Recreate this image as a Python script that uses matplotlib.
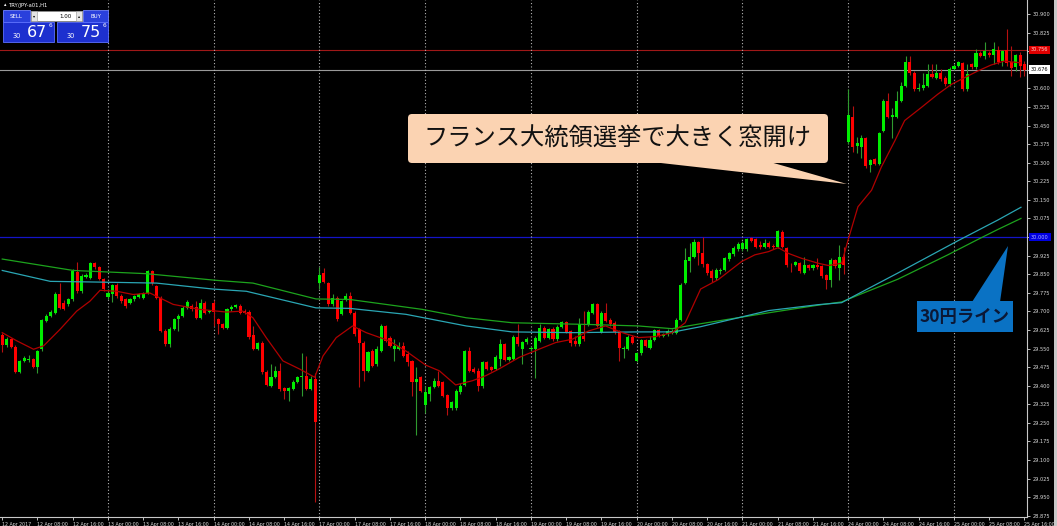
import numpy as np
import matplotlib
matplotlib.use('Agg')
import matplotlib.pyplot as plt
from matplotlib.patches import Rectangle, FancyBboxPatch, Polygon
from matplotlib.transforms import blended_transform_factory

JP = ['Noto Sans CJK JP', 'DejaVu Sans']

# TRY/JPY H1 candles, 12 Apr 2017 00:00 .. 25 Apr 16:00 (one row = 8 hours)
opens = [
    29.603, 29.563, 29.587, 29.558, 29.456, 29.500, 29.505, 29.508,
    29.474, 29.547, 29.661, 29.683, 29.694, 29.771, 29.734, 29.728,
    29.748, 29.857, 29.781, 29.838, 29.835, 29.895, 29.878, 29.830,
    29.758, 29.768, 29.808, 29.761, 29.748, 29.734, 29.748, 29.757,
    29.754, 29.774, 29.861, 29.801, 29.754, 29.621, 29.567, 29.630,
    29.668, 29.681, 29.714, 29.721, 29.718, 29.674, 29.734, 29.698,
    29.734, 29.668, 29.648, 29.634, 29.708, 29.718, 29.721, 29.701,
    29.698, 29.603, 29.550, 29.574, 29.456, 29.400, 29.436, 29.460,
    29.390, 29.380, 29.387, 29.416, 29.434, 29.438, 29.387, 29.427,
    29.814, 29.855, 29.814, 29.728, 29.754, 29.690, 29.745, 29.761,
    29.694, 29.628, 29.574, 29.460, 29.540, 29.487, 29.540, 29.641,
    29.594, 29.547, 29.550, 29.560, 29.527, 29.500, 29.414, 29.434,
    29.320, 29.367, 29.394, 29.420, 29.414, 29.362, 29.310, 29.310,
    29.373, 29.403, 29.540, 29.467, 29.460, 29.400, 29.494, 29.474,
    29.467, 29.507, 29.567, 29.504, 29.507, 29.598, 29.547, 29.576,
    29.547, 29.547, 29.580, 29.634, 29.594, 29.628, 29.587, 29.638,
    29.657, 29.620, 29.580, 29.567, 29.600, 29.647, 29.694, 29.728,
    29.617, 29.694, 29.667, 29.654, 29.620, 29.547, 29.550, 29.598,
    29.500, 29.531, 29.585, 29.554, 29.585, 29.625, 29.601, 29.607,
    29.614, 29.614, 29.667, 29.815, 29.904, 29.921, 29.978, 29.935,
    29.890, 29.861, 29.834, 29.861, 29.868, 29.910, 29.931, 29.951,
    29.951, 29.951, 29.995, 29.992, 29.968, 29.961, 29.975, 29.965,
    29.961, 30.021, 29.955, 29.888, 29.888, 29.895, 29.855, 29.888,
    29.874, 29.885, 29.881, 29.848, 29.828, 29.908, 29.874, 29.921,
    30.382, 30.485, 30.369, 30.363, 30.400, 30.289, 30.316, 30.296,
    30.429, 30.550, 30.486, 30.486, 30.550, 30.610, 30.707, 30.663,
    30.596, 30.600, 30.610, 30.656, 30.643, 30.660, 30.643, 30.616,
    30.680, 30.690, 30.703, 30.596, 30.697, 30.686, 30.743, 30.730,
    30.743, 30.733, 30.753, 30.710, 30.753, 30.707, 30.686, 30.734,
    30.700,
]
highs = [
    29.614, 29.595, 29.592, 29.565, 29.505, 29.520, 29.523, 29.512,
    29.545, 29.670, 29.690, 29.705, 29.778, 29.814, 29.745, 29.755,
    29.870, 29.901, 29.850, 29.855, 29.901, 29.900, 29.882, 29.835,
    29.790, 29.812, 29.815, 29.768, 29.752, 29.752, 29.766, 29.772,
    29.780, 29.868, 29.868, 29.808, 29.760, 29.628, 29.635, 29.672,
    29.690, 29.720, 29.745, 29.728, 29.741, 29.748, 29.741, 29.705,
    29.745, 29.674, 29.652, 29.712, 29.724, 29.730, 29.728, 29.708,
    29.704, 29.640, 29.577, 29.580, 29.462, 29.486, 29.480, 29.490,
    29.394, 29.396, 29.422, 29.440, 29.533, 29.520, 29.440, 29.450,
    29.880, 29.875, 29.820, 29.770, 29.762, 29.745, 29.775, 29.780,
    29.700, 29.632, 29.580, 29.540, 29.548, 29.560, 29.648, 29.645,
    29.600, 29.590, 29.575, 29.575, 29.540, 29.505, 29.475, 29.440,
    29.400, 29.400, 29.430, 29.460, 29.420, 29.368, 29.340, 29.385,
    29.410, 29.545, 29.555, 29.475, 29.470, 29.500, 29.500, 29.480,
    29.523, 29.587, 29.572, 29.520, 29.605, 29.648, 29.582, 29.595,
    29.560, 29.600, 29.648, 29.640, 29.632, 29.635, 29.645, 29.662,
    29.662, 29.625, 29.600, 29.672, 29.700, 29.705, 29.735, 29.735,
    29.700, 29.735, 29.672, 29.660, 29.625, 29.560, 29.603, 29.604,
    29.536, 29.590, 29.590, 29.600, 29.630, 29.630, 29.614, 29.627,
    29.627, 29.672, 29.815, 29.955, 29.975, 29.990, 29.985, 30.000,
    29.895, 29.870, 29.875, 29.875, 29.920, 29.941, 29.962, 29.978,
    29.985, 29.998, 30.000, 29.998, 29.985, 29.990, 29.985, 29.970,
    30.030, 30.030, 29.960, 29.895, 29.905, 29.900, 29.920, 29.892,
    29.892, 29.915, 29.885, 29.852, 29.914, 29.912, 29.968, 29.960,
    30.596, 30.530, 30.405, 30.410, 30.405, 30.315, 30.320, 30.425,
    30.556, 30.580, 30.520, 30.590, 30.625, 30.730, 30.730, 30.670,
    30.620, 30.660, 30.700, 30.700, 30.700, 30.680, 30.650, 30.685,
    30.700, 30.712, 30.708, 30.700, 30.702, 30.760, 30.750, 30.785,
    30.750, 30.785, 30.770, 30.756, 30.840, 30.770, 30.740, 30.745,
    30.712,
]
lows = [
    29.535, 29.555, 29.552, 29.450, 29.450, 29.495, 29.495, 29.470,
    29.450, 29.540, 29.655, 29.678, 29.690, 29.708, 29.705, 29.720,
    29.740, 29.775, 29.775, 29.835, 29.830, 29.872, 29.825, 29.782,
    29.750, 29.737, 29.755, 29.735, 29.715, 29.728, 29.742, 29.752,
    29.750, 29.768, 29.808, 29.748, 29.615, 29.560, 29.556, 29.625,
    29.620, 29.676, 29.710, 29.703, 29.668, 29.668, 29.688, 29.692,
    29.640, 29.608, 29.628, 29.628, 29.703, 29.713, 29.690, 29.690,
    29.590, 29.545, 29.545, 29.448, 29.397, 29.394, 29.430, 29.380,
    29.347, 29.340, 29.382, 29.410, 29.360, 29.382, 29.382, 28.930,
    29.790, 29.815, 29.722, 29.720, 29.660, 29.685, 29.740, 29.690,
    29.600, 29.395, 29.420, 29.455, 29.475, 29.480, 29.535, 29.575,
    29.555, 29.500, 29.545, 29.515, 29.480, 29.360, 29.200, 29.375,
    29.290, 29.340, 29.390, 29.395, 29.355, 29.280, 29.300, 29.300,
    29.368, 29.398, 29.455, 29.450, 29.380, 29.390, 29.462, 29.458,
    29.462, 29.480, 29.500, 29.498, 29.502, 29.562, 29.487, 29.570,
    29.540, 29.432, 29.575, 29.588, 29.588, 29.580, 29.580, 29.632,
    29.612, 29.560, 29.560, 29.560, 29.580, 29.640, 29.688, 29.636,
    29.612, 29.655, 29.642, 29.610, 29.500, 29.510, 29.545, 29.568,
    29.495, 29.525, 29.555, 29.548, 29.580, 29.596, 29.596, 29.602,
    29.609, 29.609, 29.660, 29.810, 29.860, 29.915, 29.885, 29.880,
    29.845, 29.820, 29.828, 29.850, 29.862, 29.905, 29.925, 29.945,
    29.945, 29.945, 29.980, 29.955, 29.950, 29.955, 29.955, 29.950,
    29.955, 29.955, 29.880, 29.860, 29.882, 29.855, 29.850, 29.868,
    29.868, 29.872, 29.835, 29.790, 29.800, 29.876, 29.826, 29.850,
    30.375, 30.342, 30.340, 30.320, 30.280, 30.262, 30.290, 30.290,
    30.425, 30.480, 30.400, 30.480, 30.545, 30.605, 30.655, 30.590,
    30.590, 30.595, 30.605, 30.640, 30.638, 30.630, 30.610, 30.610,
    30.675, 30.685, 30.590, 30.590, 30.680, 30.680, 30.725, 30.720,
    30.728, 30.700, 30.700, 30.690, 30.690, 30.650, 30.670, 30.645,
    30.650,
]
closes = [
    29.563, 29.587, 29.558, 29.456, 29.500, 29.510, 29.508, 29.474,
    29.540, 29.665, 29.683, 29.697, 29.771, 29.714, 29.710, 29.748,
    29.861, 29.781, 29.844, 29.848, 29.895, 29.878, 29.830, 29.790,
    29.774, 29.808, 29.761, 29.741, 29.721, 29.748, 29.761, 29.768,
    29.774, 29.861, 29.814, 29.754, 29.621, 29.567, 29.630, 29.668,
    29.681, 29.714, 29.737, 29.708, 29.674, 29.734, 29.694, 29.701,
    29.698, 29.648, 29.634, 29.708, 29.718, 29.724, 29.694, 29.694,
    29.598, 29.550, 29.571, 29.454, 29.403, 29.436, 29.460, 29.387,
    29.380, 29.390, 29.416, 29.433, 29.438, 29.387, 29.427, 29.253,
    29.848, 29.820, 29.728, 29.754, 29.668, 29.740, 29.761, 29.694,
    29.608, 29.574, 29.460, 29.534, 29.480, 29.547, 29.641, 29.580,
    29.560, 29.560, 29.560, 29.520, 29.494, 29.414, 29.427, 29.380,
    29.373, 29.394, 29.420, 29.400, 29.360, 29.310, 29.333, 29.380,
    29.400, 29.540, 29.460, 29.454, 29.400, 29.494, 29.467, 29.464,
    29.517, 29.567, 29.504, 29.514, 29.598, 29.567, 29.576, 29.587,
    29.554, 29.594, 29.634, 29.594, 29.628, 29.587, 29.637, 29.657,
    29.617, 29.574, 29.567, 29.647, 29.587, 29.697, 29.728, 29.641,
    29.694, 29.661, 29.647, 29.617, 29.554, 29.554, 29.598, 29.574,
    29.531, 29.585, 29.560, 29.585, 29.625, 29.601, 29.608, 29.621,
    29.621, 29.667, 29.808, 29.907, 29.921, 29.978, 29.935, 29.890,
    29.855, 29.834, 29.868, 29.868, 29.914, 29.935, 29.955, 29.970,
    29.975, 29.992, 29.985, 29.961, 29.958, 29.975, 29.961, 29.958,
    30.024, 29.961, 29.888, 29.885, 29.901, 29.861, 29.888, 29.874,
    29.888, 29.878, 29.841, 29.828, 29.908, 29.881, 29.921, 29.888,
    30.493, 30.365, 30.378, 30.400, 30.285, 30.309, 30.296, 30.419,
    30.550, 30.486, 30.493, 30.550, 30.610, 30.707, 30.660, 30.596,
    30.603, 30.613, 30.656, 30.646, 30.660, 30.636, 30.616, 30.680,
    30.690, 30.707, 30.596, 30.656, 30.686, 30.743, 30.730, 30.750,
    30.733, 30.760, 30.707, 30.750, 30.703, 30.683, 30.734, 30.690,
    30.676,
]

# moving averages (bar index, price)
red_ma_bar = [0, 3.3, 7.1, 9.4, 13.1, 16.9, 19.9, 22.2, 26, 29.7,
              33.5, 38.8, 44.8, 50.9, 54.6, 56.9, 59.9, 63.7, 67.5, 70.9,
              72.8, 75.8, 79.5, 82.6, 87.8, 91.6, 96.1, 99.2, 102.9, 106.7,
              109.7, 112.7, 117.3, 121.8, 125.6, 129.3, 133.1, 136.9, 140.7, 144.4,
              148.2, 152, 155, 158.5, 162.5, 167.8, 170.8, 173.9, 176.1, 178.4,
              181.4, 185.2, 187.5, 190.5, 192, 194.2, 197.3, 199.5, 202.6, 204.8,
              208.6, 212.3, 215.4, 218.4, 221.4, 224.4, 227.4, 231.1]
red_ma = [29.614, 29.581, 29.547, 29.561, 29.627, 29.701, 29.741, 29.785, 29.781, 29.768,
          29.774, 29.728, 29.708, 29.697, 29.701, 29.674, 29.594, 29.500, 29.467, 29.434,
          29.520, 29.594, 29.641, 29.614, 29.581, 29.540, 29.483, 29.460, 29.403, 29.420,
          29.440, 29.467, 29.514, 29.547, 29.574, 29.587, 29.621, 29.641, 29.614, 29.594,
          29.598, 29.614, 29.654, 29.790, 29.828, 29.901, 29.928, 29.941, 29.957, 29.934,
          29.914, 29.894, 29.885, 29.894, 29.990, 30.122, 30.189, 30.282, 30.389, 30.470,
          30.523, 30.576, 30.616, 30.643, 30.670, 30.694, 30.710, 30.703]

green_ma_bar = [0, 16.1, 32.7, 48.6, 56.9, 71.2, 78.8, 95.3, 105.3, 115.7, 133.1, 144.4,
                152, 158.5, 173.9, 185.2, 190.5, 194.2, 203.3, 214.6, 221.4, 225.9, 231.2]
green_ma = [29.911, 29.865, 29.852, 29.825, 29.814, 29.750, 29.748, 29.708, 29.674, 29.654,
            29.647, 29.641, 29.630, 29.650, 29.694, 29.725, 29.738, 29.765, 29.830, 29.928,
            29.990, 30.030, 30.075]

cyan_ma_bar = [0, 10.9, 22.2, 35, 47.8, 55.4, 71.2, 78.8, 91.6, 105.3, 115.7, 129.3,
               144.4, 152.4, 158.5, 173.9, 185.2, 190.5, 194.2, 203.3, 216.9, 225.9, 231.2]
cyan_ma = [29.865, 29.821, 29.818, 29.814, 29.790, 29.781, 29.714, 29.712, 29.688, 29.641,
           29.617, 29.614, 29.617, 29.617, 29.638, 29.703, 29.727, 29.735, 29.770, 29.855,
           29.985, 30.068, 30.120]

date_labels = ['12 Apr 2017', '12 Apr 08:00', '12 Apr 16:00',
               '13 Apr 00:00', '13 Apr 08:00', '13 Apr 16:00',
               '14 Apr 00:00', '14 Apr 08:00', '14 Apr 16:00',
               '17 Apr 00:00', '17 Apr 08:00', '17 Apr 16:00',
               '18 Apr 00:00', '18 Apr 08:00', '18 Apr 16:00',
               '19 Apr 00:00', '19 Apr 08:00', '19 Apr 16:00',
               '20 Apr 00:00', '20 Apr 08:00', '20 Apr 16:00',
               '21 Apr 00:00', '21 Apr 08:00', '21 Apr 16:00',
               '24 Apr 00:00', '24 Apr 08:00', '24 Apr 16:00',
               '25 Apr 00:00', '25 Apr 08:00', '25 Apr 16:00']

ask_level = 30.756
bid_level = 30.676
line_30 = 30.000

W, H = 1057, 526
fig = plt.figure(figsize=(W / 100, H / 100), dpi=100)
fig.patch.set_facecolor('black')

ax = fig.add_axes([0, 9 / H, 1027 / W, 517 / H])
ax.set_facecolor('black')

o = np.array(opens)
h = np.array(highs)
l = np.array(lows)
c = np.array(closes)
x = np.arange(len(o))
up = c >= o

# wicks then bodies
ax.vlines(x[up], l[up], h[up], color='#2f9a2f', lw=0.8, zorder=2)
ax.vlines(x[~up], l[~up], h[~up], color='#b81010', lw=0.8, zorder=2)
body_lo = np.minimum(o, c)
body_h = np.maximum(np.abs(c - o), 0.004)
ax.bar(x[up], body_h[up], bottom=body_lo[up], width=0.7, color='#00ee00', lw=0, zorder=3)
ax.bar(x[~up], body_h[~up], bottom=body_lo[~up], width=0.7, color='#ff0000', lw=0, zorder=3)

# indicator lines
ax.plot(green_ma_bar, green_ma, color='#1da31d', lw=0.9, zorder=4)
ax.plot(cyan_ma_bar, cyan_ma, color='#2aa6b4', lw=0.9, zorder=4)
ax.plot(red_ma_bar, red_ma, color='#b00000', lw=0.9, zorder=5)

# price levels
ax.axhline(ask_level, color='#a01818', lw=0.8, zorder=1)
ax.axhline(bid_level, color='#9a9a9a', lw=0.8, zorder=1)
ax.axhline(line_30, color='#1414c8', lw=0.9, zorder=1)

# day separators
for d in range(24, len(o), 24):
    ax.axvline(d, color='#b4b4b4', lw=0.8, ls=(0, (1, 2)), zorder=1)

ax.set_xlim(-0.51, 232.57)
ax.set_ylim(28.870, 30.9565)

for side in ['top', 'left']:
    ax.spines[side].set_visible(False)
for side in ['right', 'bottom']:
    ax.spines[side].set_color('#c8c8c8')
    ax.spines[side].set_linewidth(0.8)

ax.yaxis.tick_right()
yt = np.round(np.arange(28.875, 30.95, 0.075), 3)
ax.set_yticks(yt)
hidden = {30.750, 30.675, 30.000}
ax.set_yticklabels(['' if v in hidden else '%.3f' % v for v in yt])
ax.tick_params(axis='y', colors='#dcdcdc', labelsize=3.6, length=2.5, width=0.6, pad=1.5)

ax.set_xticks(np.arange(0, len(o), 8))
ax.set_xticklabels(date_labels)
ax.tick_params(axis='x', colors='#dcdcdc', labelsize=3.4, length=2.5, width=0.6, pad=0.8)
plt.setp(ax.get_xticklabels(), ha='left')

# level tags on the price scale
tr = blended_transform_factory(ax.transAxes, ax.transData)
ax.text(1.004, ask_level, '%.3f' % ask_level, transform=tr, fontsize=3.6, color='#ffd0d0',
        va='center', ha='left', bbox=dict(fc='#e00000', ec='none', pad=1.2), clip_on=False)
ax.text(1.004, bid_level, '%.3f' % bid_level, transform=tr, fontsize=3.6, color='black',
        va='center', ha='left', bbox=dict(fc='white', ec='none', pad=1.2), clip_on=False)
ax.text(1.004, line_30, '%.3f' % line_30, transform=tr, fontsize=3.6, color='#b0b0ff',
        va='center', ha='left', bbox=dict(fc='#0000e0', ec='none', pad=1.2), clip_on=False)

# overlay in pixel units for the trade panel and callouts
ov = fig.add_axes([0, 0, 1, 1], zorder=10)
ov.set_xlim(0, W)
ov.set_ylim(H, 0)
ov.axis('off')

# window border on the right
ov.add_patch(Rectangle((1054, 0), 3, H, fc='#c8c8c8', ec='none'))

# one-click trading panel
ov.text(4, 5, '\u25b4', fontsize=3.5, color='white', va='center')
ov.text(9, 5, 'TRY/JPY-a01,H1', fontsize=3.8, color='white', va='center')
ov.add_patch(Rectangle((3, 10), 27, 12, fc='#2a40dc', ec='#7082ff', lw=0.6))
ov.text(16.5, 16.3, 'SELL', fontsize=4, color='white', ha='center', va='center')
ov.add_patch(Rectangle((31, 11), 51, 10, fc='white', ec='#909090', lw=0.5))
ov.add_patch(Rectangle((31, 11), 6, 10, fc='#e4e4e4', ec='#909090', lw=0.4))
ov.add_patch(Rectangle((76, 11), 6, 10, fc='#e4e4e4', ec='#909090', lw=0.4))
ov.text(34, 16, '\u25be', fontsize=3, color='black', ha='center', va='center')
ov.text(79, 16, '\u25b4', fontsize=3, color='black', ha='center', va='center')
ov.text(72, 16.3, '1.00', fontsize=4, color='black', ha='right', va='center')
ov.add_patch(Rectangle((83, 10), 25, 12, fc='#2a40dc', ec='#7082ff', lw=0.6))
ov.text(95.5, 16.3, 'BUY', fontsize=4, color='white', ha='center', va='center')
for bx, big in [(3, '67'), (57, '75')]:
    ov.add_patch(Rectangle((bx, 22), 51, 20, fc='#1d30cf', ec='#5c70ff', lw=0.6))
    ov.text(bx + 10, 36.5, '30', fontsize=4.8, color='white', ha='left', va='center')
    ov.text(bx + 24, 32.5, big, fontsize=11.5, color='white', ha='left', va='center')
    ov.text(bx + 46, 25.5, '6', fontsize=4.2, color='white', ha='left', va='center')

# callout: gap at the French presidential election
peach = '#fbd3b2'
ov.add_patch(FancyBboxPatch((410, 116), 416, 45, boxstyle='round,pad=2,rounding_size=4',
                            fc=peach, ec='none'))
ov.add_patch(Polygon([(652, 162), (770, 162), (847, 184)], closed=True, fc=peach, ec='none'))
ov.text(617, 139, 'フランス大統領選挙で大きく窓開け', fontsize=17.5, family=JP,
        color='#111111', ha='center', va='center')

# callout: 30 yen line
blue = '#0a72c4'
ov.add_patch(Rectangle((917, 301), 96, 31, fc=blue, ec='none'))
ov.add_patch(Polygon([(972, 302), (1000, 302), (1008, 246)], closed=True, fc=blue, ec='none'))
ov.text(965, 317.5, '30円ライン', fontsize=12.5, family=JP, weight='bold',
        color='#0b1836', ha='center', va='center')

fig.savefig('out.png', dpi=100, facecolor=fig.get_facecolor())
